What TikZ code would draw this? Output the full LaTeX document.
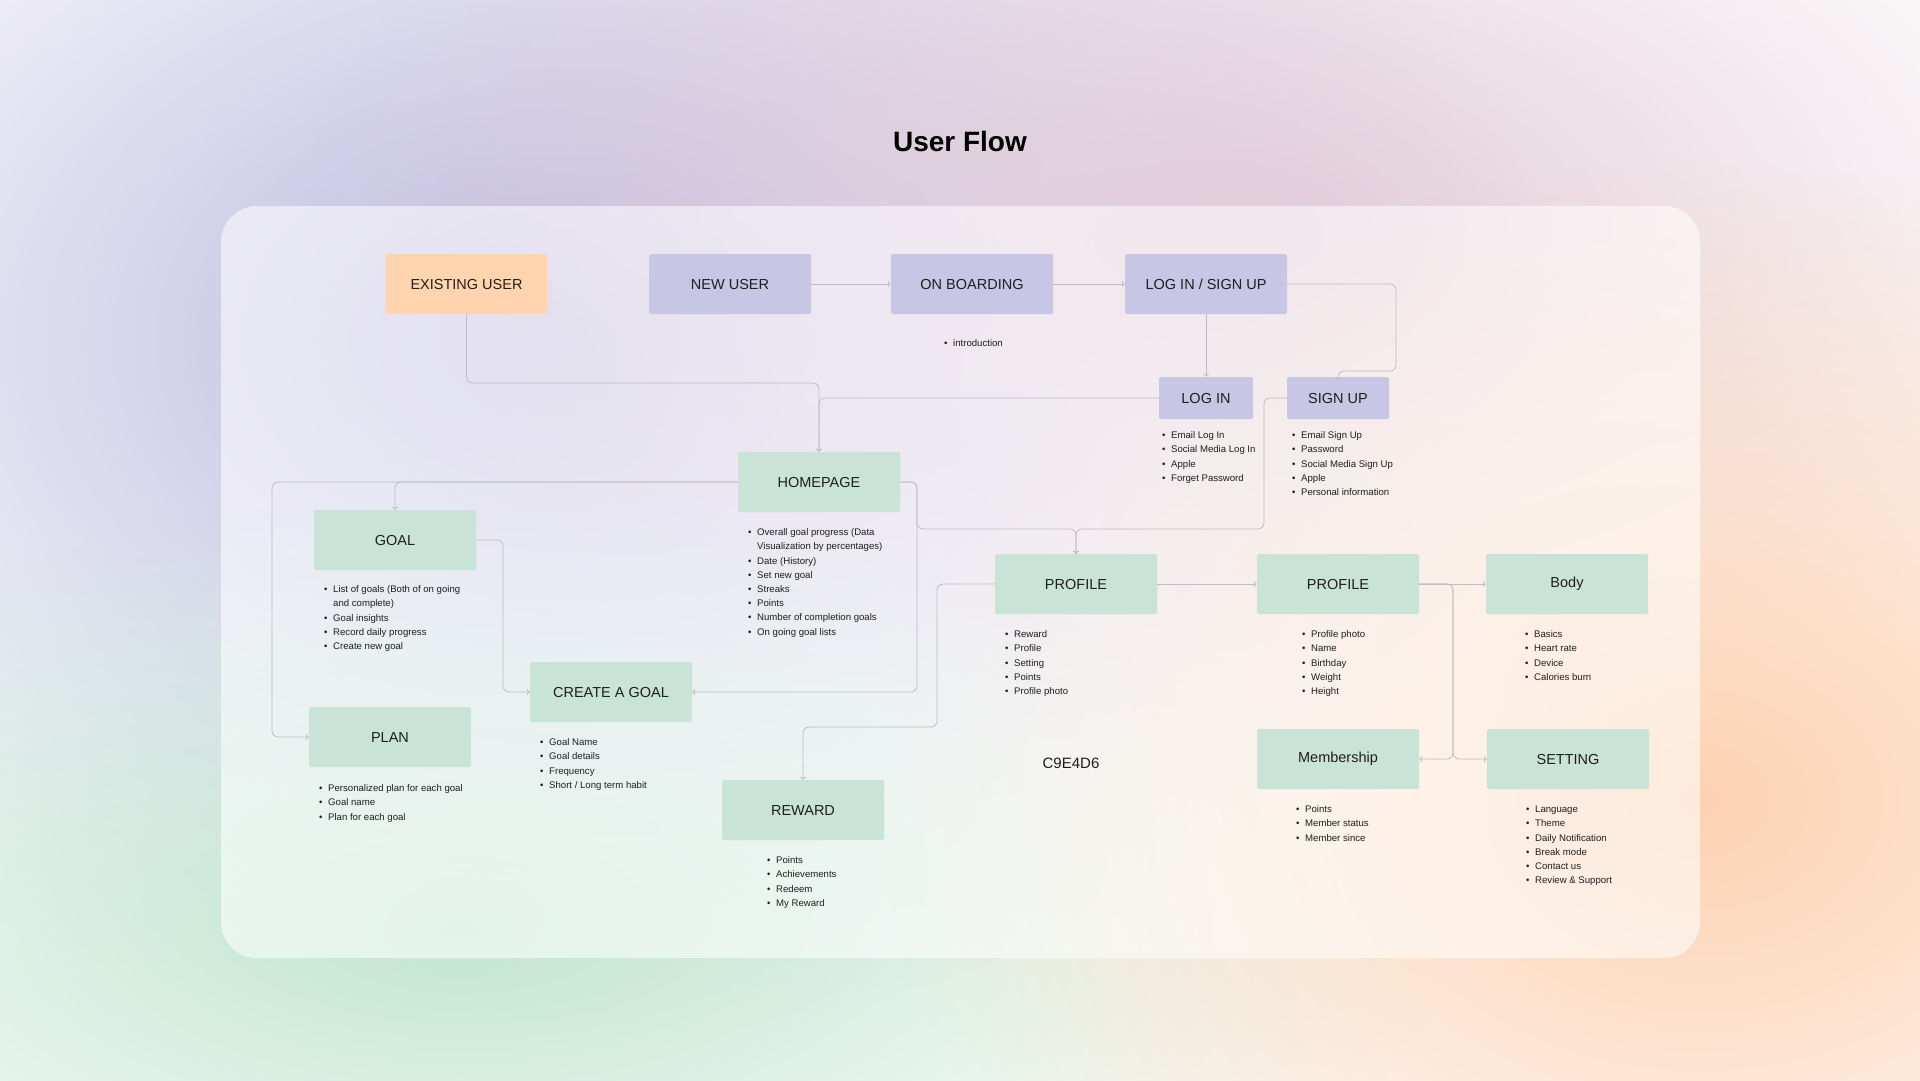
\documentclass[tikz,border=0pt]{standalone}
\usepackage{fontspec}
\setmainfont{Liberation Sans}
\usetikzlibrary{arrows.meta,fadings}

\definecolor{ink}{HTML}{1E1E1E}
\definecolor{lavfill}{HTML}{C8C6E5}
\definecolor{peachfill}{HTML}{FFD4AF}
\definecolor{greenfill}{HTML}{C9E4D6}
\definecolor{wirecol}{HTML}{BDBDC3}
\definecolor{lavblob}{HTML}{B9B7DE}
\definecolor{pinkblob}{HTML}{E2CCD8}
\definecolor{greenblob}{HTML}{C3E6D2}
\definecolor{peachblob}{HTML}{FCD2B2}

\tikzfading[name=blobfade, inner color=transparent!0, outer color=transparent!100]

\newcommand{\itm}{\strut\makebox[9pt][l]{\textbullet}}
\newcommand{\cnt}{\strut\hspace*{9pt}}

\begin{document}
\begin{tikzpicture}[x=1pt, y=-1pt,
    box/.style={rectangle, rounded corners=1.5pt, minimum width=162pt, minimum height=60pt, inner sep=0pt, text=ink, font=\fontsize{14.5}{17}\selectfont},
    lavbox/.style={box, fill=lavfill},
    peachbox/.style={box, fill=peachfill},
    greenbox/.style={box, fill=greenfill},
    smallbox/.style={lavbox, minimum height=42pt},
    notes/.style={anchor=north west, inner sep=0pt, align=left, text=ink, font=\fontsize{9.6}{14.2}\selectfont},
    wire/.style={draw=wirecol, line width=0.8pt, rounded corners=6pt, -{To[length=3pt, width=6pt]}}]

    \useasboundingbox (0,0) rectangle (1920,1080);

    % backdrop
    \fill[white] (0,0) rectangle (1920,1080);
    \fill[lavblob, path fading=blobfade] (560,340) ellipse (1000 and 700);
    \fill[pinkblob, path fading=blobfade] (1250,230) ellipse (950 and 520);
    \fill[greenblob, path fading=blobfade] (460,930) ellipse (1000 and 430);
    \fill[peachblob, path fading=blobfade] (1700,800) ellipse (820 and 640);
    \fill[white, opacity=0.55, rounded corners=36pt] (221,206) rectangle (1700,958);

    \node (title) at (960,141) [font=\fontsize{28}{32}\selectfont\bfseries, text=black] {User Flow};

    \node (existing) at (466.5,284) [peachbox] {EXISTING USER};
    \node (newuser) at (730,284) [lavbox] {NEW USER};
    \node (onboarding) at (972,284) [lavbox] {ON BOARDING};
    \node (loginsignup) at (1206,284) [lavbox] {LOG IN / SIGN UP};
    \node (login) at (1206,398) [smallbox, minimum width=94pt] {LOG IN};
    \node (signup) at (1338,398) [smallbox, minimum width=102pt] {SIGN UP};
    \node (homepage) at (819,482) [greenbox] {HOMEPAGE};
    \node (goal) at (395,540) [greenbox] {GOAL};
    \node (creategoal) at (611,692) [greenbox] {CREATE A GOAL};
    \node (plan) at (390,737) [greenbox] {PLAN};
    \node (profile) at (1076,584) [greenbox] {PROFILE};
    \node (reward) at (803,810) [greenbox] {REWARD};
    \node (profiledetail) at (1338,584) [greenbox] {PROFILE};
    \node (body) at (1567,584) [greenbox] {Body};
    \node (membership) at (1338,759) [greenbox] {Membership};
    \node (setting) at (1568,759) [greenbox] {SETTING};
    \node (colourcode) at (1071,763) [text=ink, font=\fontsize{15}{18}\selectfont] {C9E4D6};

    \node (onboardnotes) at (944,336.6) [notes] {\itm introduction};
    \node (loginnotes) at (1162,428.6) [notes] {\itm Email Log In\\ \itm Social Media Log In\\ \itm Apple\\ \itm Forget Password};
    \node (signupnotes) at (1292,428.6) [notes] {\itm Email Sign Up\\ \itm Password\\ \itm Social Media Sign Up\\ \itm Apple\\ \itm Personal information};
    \node (homenotes) at (748,525.6) [notes] {\itm Overall goal progress (Data\\ \cnt Visualization by percentages)\\ \itm Date (History)\\ \itm Set new goal\\ \itm Streaks\\ \itm Points\\ \itm Number of completion goals\\ \itm On going goal lists};
    \node (goalnotes) at (324,582.6) [notes] {\itm List of goals (Both of on going\\ \cnt and complete)\\ \itm Goal insights\\ \itm Record daily progress\\ \itm Create new goal};
    \node (plannotes) at (319,781.6) [notes] {\itm Personalized plan for each goal\\ \itm Goal name\\ \itm Plan for each goal};
    \node (createnotes) at (540,735.6) [notes] {\itm Goal Name\\ \itm Goal details\\ \itm Frequency\\ \itm Short / Long term habit};
    \node (rewardnotes) at (767,853.6) [notes] {\itm Points\\ \itm Achievements\\ \itm Redeem\\ \itm My Reward};
    \node (profilenotes) at (1005,627.6) [notes] {\itm Reward\\ \itm Profile\\ \itm Setting\\ \itm Points\\ \itm Profile photo};
    \node (detailnotes) at (1302,627.6) [notes] {\itm Profile photo\\ \itm Name\\ \itm Birthday\\ \itm Weight\\ \itm Height};
    \node (bodynotes) at (1525,627.6) [notes] {\itm Basics\\ \itm Heart rate\\ \itm Device\\ \itm Calories burn};
    \node (membernotes) at (1296,802.6) [notes] {\itm Points\\ \itm Member status\\ \itm Member since};
    \node (settingnotes) at (1526,802.6) [notes] {\itm Language\\ \itm Theme\\ \itm Daily Notification\\ \itm Break mode\\ \itm Contact us\\ \itm Review \& Support};

    \coordinate (signupbend) at (1396,371);
    \coordinate (hometop) at (819,383);
    \coordinate (leftrail) at (272,600);
    \coordinate (goalrail) at (503,600);
    \coordinate (homerail) at (917,510);
    \coordinate (profilejoin) at (1076,529);
    \coordinate (signuprail) at (1264,450);
    \coordinate (rewardrail) at (937,727);
    \coordinate (settingsrail) at (1453,680);

    \draw[wire] (newuser.east) -- (onboarding.west);
    \draw[wire] (onboarding.east) -- (loginsignup.west);
    \draw[wire] (loginsignup.south) -- (login.north);
    \draw[wire] (loginsignup.east) -| (signupbend) -| (signup.north);
    \draw[wire] (existing.south) |- (hometop) -- (homepage.north);
    \draw[wire] (login.west) -| (homepage.north);
    \draw[wire] (homepage.west) -| (goal.north);
    \draw[wire] (homepage.west) -| (leftrail) |- (plan.west);
    \draw[wire] (goal.east) -| (goalrail) |- (creategoal.west);
    \draw[wire] (homepage.east) -| (homerail) |- (creategoal.east);
    \draw[wire] (homepage.east) -| (homerail) |- (profilejoin) -- (profile.north);
    \draw[wire] (signup.west) -| (signuprail) |- (profilejoin) -- (profile.north);
    \draw[wire] (profile.west) -| (rewardrail) -| (reward.north);
    \draw[wire] (profile.east) -- (profiledetail.west);
    \draw[wire] (profiledetail.east) -- (body.west);
    \draw[wire] (profiledetail.east) -| (settingsrail) |- (setting.west);
    \draw[wire] (profiledetail.east) -| (settingsrail) |- (membership.east);
\end{tikzpicture}
\end{document}
